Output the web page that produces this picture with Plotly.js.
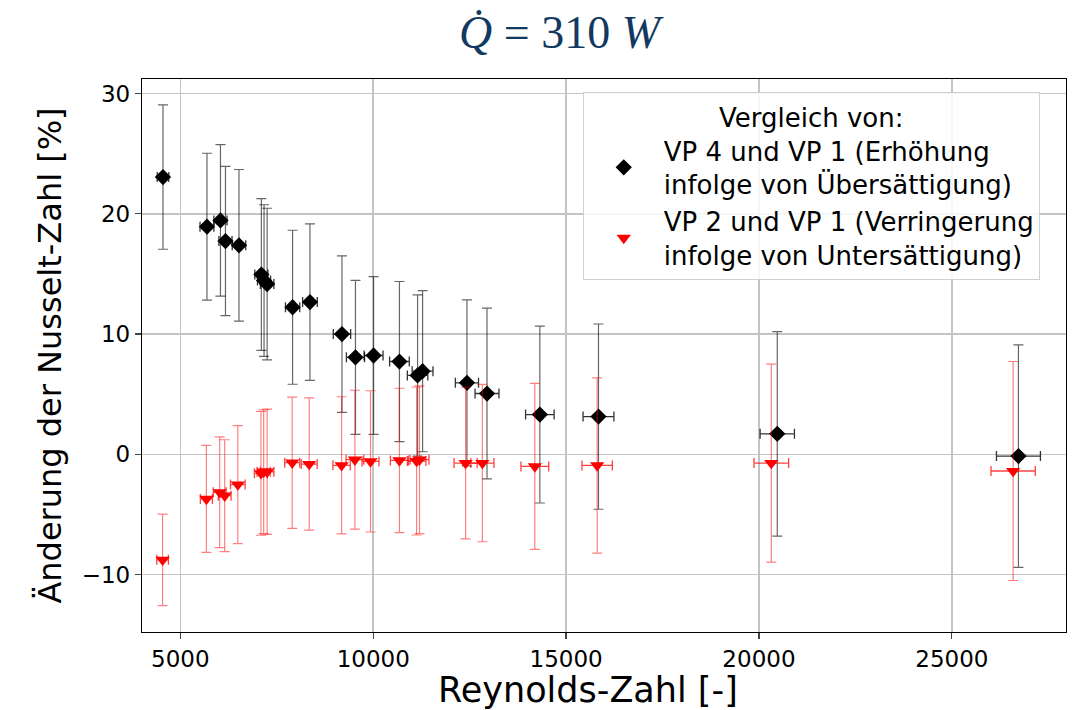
<!DOCTYPE html>
<html>
<head>
<meta charset="utf-8">
<script src="https://cdn.plot.ly/plotly-3.0.1.min.js"></script>
<style>
html,body{margin:0;padding:0;background:#fff;}
#chart{width:1076px;height:710px;}
</style>
</head>
<body>
<div id="chart"></div>
<script>
// VP 4 vs VP 1 (increase due to supersaturation)
const reBlack   = [4550, 5690, 6040, 6170, 6520, 7100, 7170, 7250, 7910, 8360, 9190, 9540, 10010, 10680, 11150, 11280, 12430, 12950, 14320, 15840, 20475, 26727];
const nuBlack   = [23.05, 18.93, 19.45, 17.73, 17.38, 14.95, 14.45, 14.16, 12.23, 12.66, 10.0, 8.07, 8.22, 7.72, 6.56, 6.92, 5.95, 5.06, 3.31, 3.14, 1.71, -0.14];
const errYBlack = [6.0, 6.1, 6.3, 6.2, 6.3, 6.3, 6.3, 6.3, 6.4, 6.5, 6.5, 6.4, 6.55, 6.65, 6.7, 6.7, 6.9, 7.1, 7.35, 7.7, 8.5, 9.25];
const errXBlack = [150, 180, 170, 170, 175, 170, 170, 175, 185, 190, 225, 235, 245, 255, 265, 270, 300, 310, 370, 400, 445, 570];

// VP 2 vs VP 1 (decrease due to undersaturation)
const reRed   = [4540, 5675, 6020, 6150, 6490, 7090, 7160, 7250, 7900, 8340, 9180, 9525, 9930, 10680, 11125, 11200, 12395, 12830, 14190, 15806, 20320, 26590];
const nuRed   = [-8.76, -3.70, -3.15, -3.43, -2.51, -1.57, -1.44, -1.44, -0.69, -0.80, -0.91, -0.44, -0.58, -0.50, -0.55, -0.44, -0.72, -0.72, -1.0, -0.92, -0.72, -1.38];
const errYRed = [3.8, 4.45, 4.6, 4.65, 4.9, 5.15, 5.15, 5.2, 5.45, 5.5, 5.7, 5.77, 5.87, 6.0, 6.15, 6.14, 6.3, 6.54, 6.9, 7.28, 8.23, 9.1];
const errXRed = [150, 156, 165, 165, 190, 170, 170, 175, 195, 207, 225, 230, 220, 235, 240, 245, 300, 300, 360, 394, 449, 574];

const seriesNames = [
  "VP 4 und VP 1 (Erhöhung<br>infolge von Übersättigung)",
  "VP 2 und VP 1 (Verringerung<br>infolge von Untersättigung)"
];
const xTitle = "Reynolds-Zahl [-]";
const yTitle = "Änderung der Nusselt-Zahl [%]";
const xTicks = [5000, 10000, 15000, 20000, 25000];
const yTicks = [-10, 0, 10, 20, 30];

const font = "DejaVu Sans, sans-serif";

const traces = [
  {
    x: reBlack, y: nuBlack, type: "scatter", mode: "markers", name: seriesNames[0],
    marker: {symbol: "diamond", size: 12.5, color: "#000000"},
    error_y: {type: "data", array: errYBlack, visible: true, color: "rgba(0,0,0,0.6)", thickness: 1.2, width: 5},
    error_x: {type: "data", array: errXBlack, visible: true, color: "rgba(0,0,0,0.8)", thickness: 1.3, width: 5}
  },
  {
    x: reRed, y: nuRed, type: "scatter", mode: "markers", name: seriesNames[1],
    marker: {symbol: "triangle-down", size: 12.5, color: "#ff0000"},
    error_y: {type: "data", array: errYRed, visible: true, color: "rgba(255,0,0,0.5)", thickness: 1.2, width: 5},
    error_x: {type: "data", array: errXRed, visible: true, color: "rgba(255,0,0,0.75)", thickness: 1.3, width: 5}
  }
];

const layout = {
  width: 1076, height: 710,
  paper_bgcolor: "#ffffff", plot_bgcolor: "#ffffff",
  margin: {l: 142, r: 10, t: 79, b: 78, pad: 0},
  font: {family: font, size: 23, color: "#000000"},
  title: {
    text: "<i>Q̇</i> = 310 <i>W</i>",
    font: {family: "Liberation Serif, serif", size: 46, color: "#12395f"},
    x: 0.52, xref: "container", xanchor: "center",
    y: 0.955, yref: "container", yanchor: "middle"
  },
  xaxis: {
    range: [4006, 27960],
    tickvals: xTicks, ticktext: xTicks.map(String),
    showgrid: true, gridcolor: "#c4c4c4", gridwidth: 1.5,
    zeroline: false,
    showline: true, linecolor: "#000000", linewidth: 1.2, mirror: true,
    ticks: "outside", ticklen: 6, tickwidth: 1.2, tickcolor: "#444",
    tickfont: {family: font, size: 23}
  },
  yaxis: {
    range: [-14.76, 31.2],
    tickvals: yTicks,
    showgrid: true, gridcolor: "#c4c4c4", gridwidth: 1.5,
    zeroline: false,
    showline: true, linecolor: "#000000", linewidth: 1.2, mirror: true,
    ticks: "outside", ticklen: 6, tickwidth: 1.2, tickcolor: "#444",
    tickfont: {family: font, size: 23},
    title: {text: yTitle, font: {family: font, size: 32}, standoff: 10}
  },
  annotations: [
    {text: xTitle, xref: "paper", yref: "paper", x: 0.483, y: -0.104,
     xanchor: "center", yanchor: "middle", showarrow: false,
     font: {family: font, size: 35, color: "#000000"}}
  ],
  showlegend: true,
  legend: {
    x: 0.477, xanchor: "left", y: 0.976, yanchor: "top",
    bgcolor: "rgba(255,255,255,0.85)", bordercolor: "#d0d0d0", borderwidth: 1,
    font: {family: font, size: 26},
    title: {text: "Vergleich von:", side: "top center", font: {family: font, size: 26}},
    itemwidth: 70, valign: "middle", tracegroupgap: 2
  }
};

Plotly.newPlot("chart", traces, layout, {displayModeBar: false, staticPlot: true});
</script>
</body>
</html>
